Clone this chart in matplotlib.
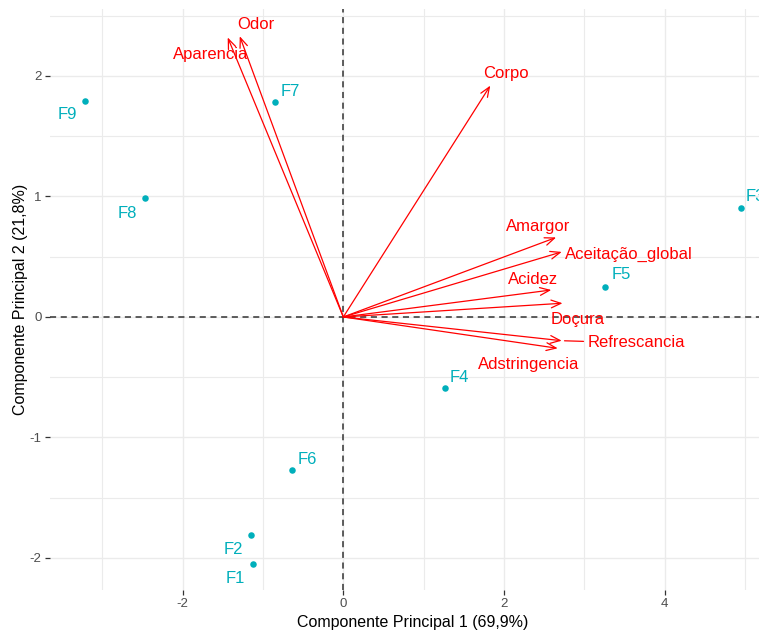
import matplotlib
matplotlib.use("Agg")
import matplotlib.pyplot as plt
from matplotlib.ticker import MultipleLocator

plt.rcParams['font.family'] = ['Liberation Sans', 'DejaVu Sans']

# individuals (scores on PC1 / PC2)
ind_names = ["F1", "F2", "F3", "F4", "F5", "F6", "F7", "F8", "F9"]
ind_x = [-1.12, -1.15, 4.95, 1.27, 3.26, -0.64, -0.85, -2.47, -3.22]
ind_y = [-2.05, -1.81, 0.905, -0.59, 0.25, -1.27, 1.78, 0.99, 1.79]
# where the repelled labels ended up
ind_lab_x = [-1.35, -1.37, 5.13, 1.45, 3.46, -0.45, -0.66, -2.69, -3.44]
ind_lab_y = [-2.17, -1.93, 1.00, -0.50, 0.35, -1.18, 1.87, 0.86, 1.68]

# variables (loadings, scaled)
var_names = ["Odor", "Aparencia", "Corpo", "Amargor", "Aceitação_global",
             "Acidez", "Doçura", "Refrescancia", "Adstringencia"]
var_x = [-1.29, -1.44, 1.83, 2.65, 2.72, 2.59, 2.73, 2.72, 2.67]
var_y = [2.33, 2.32, 1.92, 0.66, 0.54, 0.224, 0.114, -0.197, -0.26]
var_lab_x = [-1.09, -1.65, 2.03, 2.43, 3.55, 2.36, 2.92, 3.65, 2.31]
var_lab_y = [2.43, 2.18, 2.02, 0.75, 0.52, 0.315, -0.017, -0.216, -0.398]
var_seg = [False, False, False, False, False, False, False, True, False]

x_title = "Componente Principal 1 (69,9%)"
y_title = "Componente Principal 2 (21,8%)"

W, H = 759, 630
fig = plt.figure(figsize=(W / 100, H / 100), dpi=100)
# panel runs a little past the right edge (picture is cropped there)
left, right, top, bottom = 50, 775, 9, 590
ax = fig.add_axes([left / W, (H - bottom) / H, (right - left) / W, (bottom - top) / H])
ax.set_xlim(-3.653, 5.376)
ax.set_ylim(-2.266, 2.556)

for s in ax.spines.values():
    s.set_visible(False)
ax.xaxis.set_major_locator(MultipleLocator(2))
ax.xaxis.set_minor_locator(MultipleLocator(1))
ax.yaxis.set_major_locator(MultipleLocator(1))
ax.yaxis.set_minor_locator(MultipleLocator(0.5))
ax.grid(True, which='major', color='#ebebeb', lw=1.0)
ax.grid(True, which='minor', color='#ebebeb', lw=0.8)
ax.set_axisbelow(True)
ax.tick_params(which='major', length=3.5, width=0.9, color='#333333',
               labelsize=9.5, labelcolor='#4d4d4d', pad=2.5)
ax.tick_params(which='minor', length=0)
ax.set_xticklabels([f"{int(v)}" for v in ax.get_xticks()])
ax.set_yticklabels([f"{int(v)}" for v in ax.get_yticks()])

ax.axhline(0, color='#333333', lw=1.1, ls=(0, (4, 3)), zorder=1)
ax.axvline(0, color='#333333', lw=1.1, ls=(0, (4, 3)), zorder=1)

teal = '#00AFBB'
ax.scatter(ind_x, ind_y, s=22, color=teal, zorder=3, linewidths=0)
for name, lx, ly in zip(ind_names, ind_lab_x, ind_lab_y):
    ax.text(lx, ly, name, color=teal, fontsize=12, ha='center', va='center',
            zorder=4, clip_on=False)

red = '#ff0000'
for vx, vy in zip(var_x, var_y):
    ax.annotate('', xy=(vx, vy), xytext=(0, 0),
                arrowprops=dict(arrowstyle='->,head_length=0.7,head_width=0.28',
                                color=red, lw=0.9, shrinkA=0, shrinkB=0),
                zorder=2)
for name, vx, vy, lx, ly, seg in zip(var_names, var_x, var_y, var_lab_x, var_lab_y, var_seg):
    if seg:
        ax.annotate(name, xy=(vx, vy), xytext=(lx, ly), color=red, fontsize=12,
                    ha='center', va='center', zorder=4,
                    arrowprops=dict(arrowstyle='-', color=red, lw=0.9,
                                    shrinkA=1, shrinkB=2))
    else:
        ax.text(lx, ly, name, color=red, fontsize=12, ha='center', va='center', zorder=4)

ax.set_xlabel(x_title, fontsize=11.5, labelpad=3)
ax.set_ylabel(y_title, fontsize=11.5, labelpad=1)

fig.savefig("out.png", dpi=100)
